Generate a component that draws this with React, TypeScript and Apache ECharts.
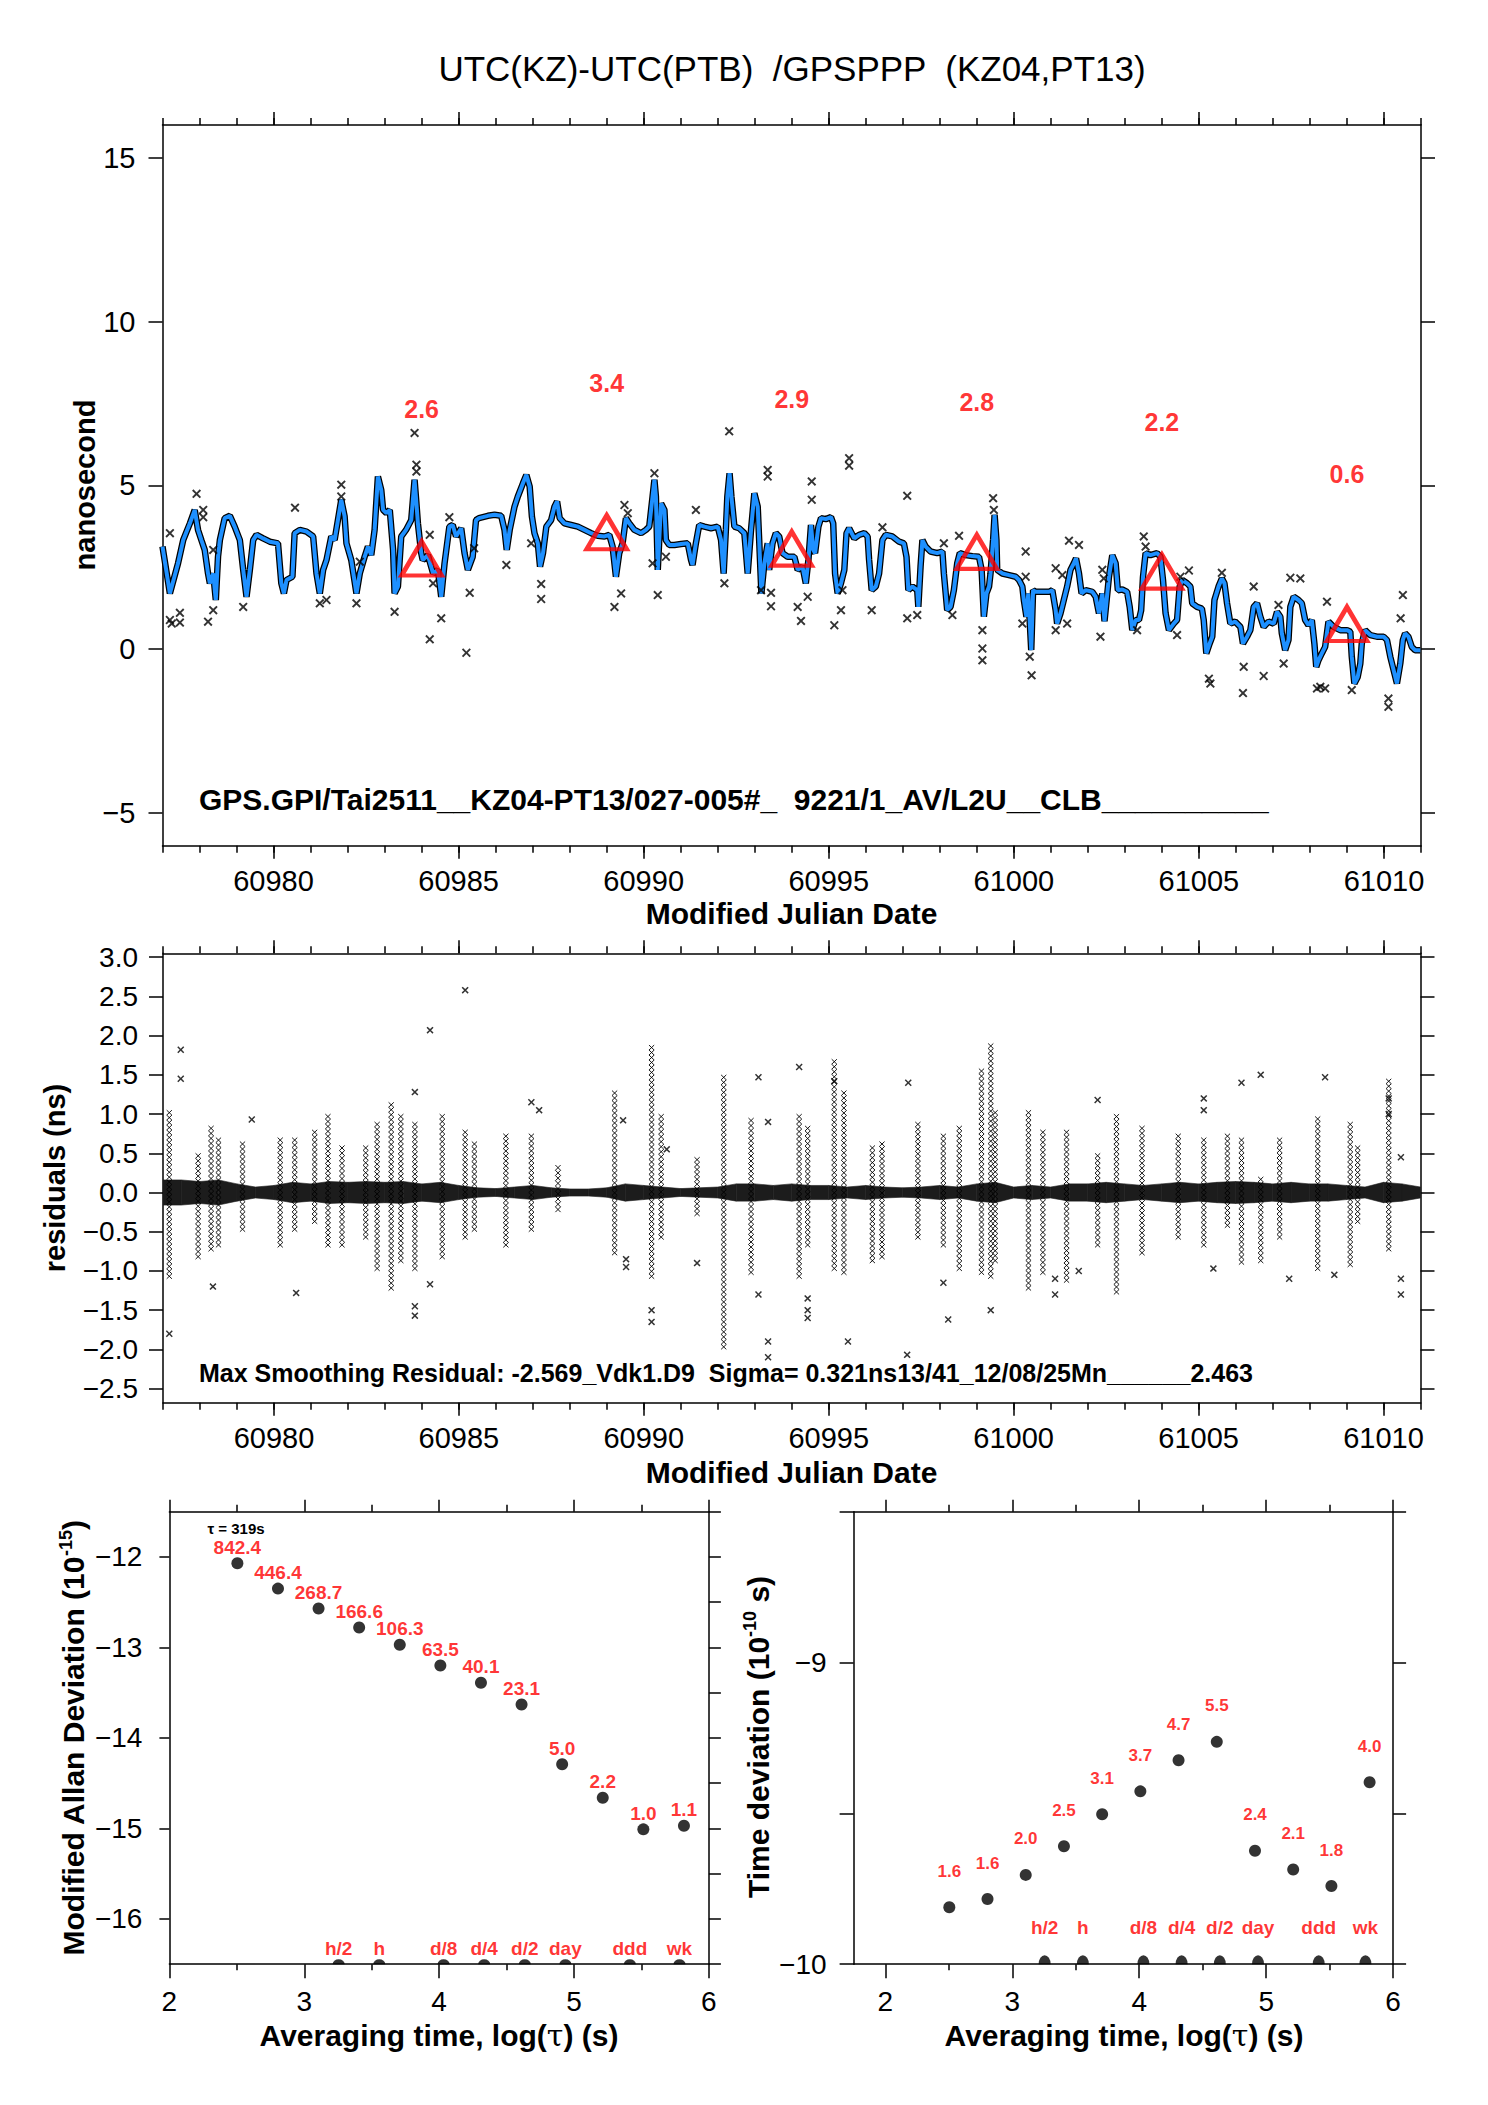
import React, { useEffect, useRef } from 'react';
import * as echarts from 'echarts';

const FONT = '"Liberation Sans", Arial, Helvetica, sans-serif';

// ---------- texts ----------
const chartTitle = 'UTC(KZ)-UTC(PTB)  /GPSPPP  (KZ04,PT13)';
const topInfo = 'GPS.GPI/Tai2511__KZ04-PT13/027-005#_  9221/1_AV/L2U__CLB__________';
const residInfo = 'Max Smoothing Residual: -2.569_Vdk1.D9  Sigma= 0.321ns13/41_12/08/25Mn______2.463';
const tauText = 'τ = 319s';

// ---------- tick labels ----------
const mjdTicks = [60980, 60985, 60990, 60995, 61000, 61005, 61010];
const nsTicks = [-5, 0, 5, 10, 15];
const residTicks = [-2.5, -2.0, -1.5, -1.0, -0.5, 0.0, 0.5, 1.0, 1.5, 2.0, 2.5, 3.0];
const logTauTicks = [2, 3, 4, 5, 6];
const logTauHalfTicks = [2.5, 3.5, 4.5, 5.5];
const mdevTicks = [-16, -15, -14, -13, -12];
const mdevHalfTicks = [-16.5, -16, -15.5, -15, -14.5, -14, -13.5, -13, -12.5, -12, -11.5];
const tdevTicks = [-10, -9];
const tdevHalfTicks = [-10, -9.5, -9, -8.5];

// ---------- top panel: smoothed curve [MJD, ns] ----------
const smoothCurve: [number, number][] = [
  [60977.00,3.13],[60977.20,1.70],[60977.42,2.62],[60977.56,3.33],[60977.74,3.84],[60977.87,4.25],[60977.96,3.64],[60978.05,3.33],[60978.14,3.03],[60978.23,2.31],[60978.28,2.01],[60978.37,2.31],[60978.44,1.50],[60978.50,2.82],[60978.55,3.33],[60978.68,4.00],[60978.82,4.07],[60978.95,3.74],[60979.09,3.33],[60979.18,2.42],[60979.27,1.60],[60979.36,2.42],[60979.45,3.33],[60979.54,3.49],[60979.72,3.38],[60979.90,3.28],[60980.12,3.23],[60980.21,2.01],[60980.28,1.70],[60980.35,2.11],[60980.51,2.21],[60980.57,3.54],[60980.71,3.64],[60980.89,3.59],[60981.07,3.44],[60981.16,2.31],[60981.25,1.70],[60981.34,2.42],[60981.43,2.72],[60981.56,3.44],[60981.65,3.33],[60981.83,4.56],[60981.92,4.05],[60981.97,3.23],[60982.10,2.72],[60982.24,1.70],[60982.33,2.31],[60982.46,2.82],[60982.55,3.13],[60982.64,2.87],[60982.73,3.64],[60982.82,5.27],[60982.91,4.86],[60982.96,4.25],[60983.05,4.15],[60983.14,4.25],[60983.23,3.03],[60983.27,1.70],[60983.36,1.91],[60983.45,3.44],[60983.58,3.64],[60983.72,3.94],[60983.81,5.17],[60983.86,4.45],[60983.90,3.84],[60983.99,2.93],[60984.03,2.72],[60984.17,2.87],[60984.31,2.31],[60984.44,2.42],[60984.53,1.60],[60984.62,2.62],[60984.75,3.74],[60984.84,3.79],[60984.93,3.44],[60985.07,3.69],[60985.16,2.93],[60985.25,2.42],[60985.38,2.82],[60985.47,3.94],[60985.55,4.00],
  [60985.79,4.07],[60985.97,4.10],[60986.15,4.07],[60986.24,3.64],[60986.30,3.03],[60986.38,3.64],[60986.51,4.35],[60986.60,4.66],[60986.74,5.07],[60986.83,5.32],[60986.92,4.96],[60986.98,4.05],[60987.05,3.54],[60987.14,3.23],[60987.20,2.52],[60987.28,2.93],[60987.37,3.74],[60987.50,3.94],[60987.59,4.35],[60987.66,4.51],[60987.73,4.00],[60987.86,3.84],[60988.04,3.79],[60988.22,3.74],[60988.40,3.64],[60988.58,3.54],[60988.76,3.46],[60988.94,3.44],[60989.07,3.49],[60989.16,3.13],[60989.25,2.21],[60989.34,2.93],[60989.43,3.23],[60989.52,4.00],[60989.61,3.84],[60989.75,3.64],[60989.93,3.54],[60990.06,3.64],[60990.15,3.74],[60990.24,4.66],[60990.29,5.17],[60990.33,4.66],[60990.38,2.42],[60990.47,4.45],[60990.56,4.25],[60990.60,3.33],[60990.69,3.18],[60990.83,3.18],[60991.01,3.21],[60991.19,3.23],[60991.28,2.72],[60991.32,2.57],[60991.41,3.23],[60991.50,3.79],[60991.64,3.74],[60991.82,3.69],[60992.00,3.74],[60992.09,3.33],[60992.16,2.31],[60992.22,3.64],[60992.26,4.66],[60992.32,5.37],[60992.37,4.66],[60992.45,3.74],[60992.58,3.69],[60992.72,3.54],[60992.81,2.31],[60992.90,3.64],[60992.99,4.76],[60993.08,4.35],[60993.12,3.33],[60993.18,1.70],[60993.26,2.62],[60993.35,3.23],[60993.39,2.42],[60993.48,3.23],[60993.57,3.54],[60993.66,3.44],[60993.75,2.93],[60993.89,2.82],
  [60994.07,2.82],[60994.16,2.42],[60994.29,2.52],[60994.38,2.01],[60994.45,2.72],[60994.52,3.79],[60994.58,3.03],[60994.63,2.93],[60994.72,3.74],[60994.79,4.00],[60994.92,3.97],[60995.06,4.03],[60995.12,3.84],[60995.17,2.31],[60995.24,1.70],[60995.33,2.01],[60995.42,2.42],[60995.48,3.54],[60995.55,3.69],[60995.69,3.38],[60995.82,3.49],[60995.96,3.54],[60996.05,3.44],[60996.09,2.72],[60996.16,1.80],[60996.27,1.91],[60996.36,2.31],[60996.45,3.33],[60996.54,3.49],[60996.72,3.44],[60996.90,3.28],[60997.03,3.23],[60997.10,2.82],[60997.15,1.80],[60997.26,1.91],[60997.39,1.80],[60997.42,1.29],[60997.48,2.52],[60997.53,3.33],[60997.62,3.13],[60997.75,2.98],[60997.93,2.93],[60998.07,2.98],[60998.11,2.31],[60998.20,1.19],[60998.29,1.29],[60998.38,1.80],[60998.47,2.62],[60998.54,2.93],[60998.70,2.87],[60998.88,2.84],[60999.06,2.82],[60999.13,2.42],[60999.19,0.99],[60999.26,1.70],[60999.33,1.91],[60999.37,2.31],[60999.44,3.33],[60999.48,4.10],[60999.53,3.33],[60999.55,2.42],[60999.69,2.31],[60999.87,2.26],[61000.05,2.21],[61000.14,2.11],[61000.23,1.91],[61000.27,1.50],[61000.34,0.99],[61000.39,1.70],[61000.47,-0.03],[61000.52,1.80],[61000.59,1.75],[61000.77,1.75],[61000.95,1.75],[61001.04,1.80],[61001.13,1.19],[61001.17,0.78],[61001.26,1.09],[61001.35,1.50],[61001.44,1.91],[61001.53,2.42],[61001.62,2.62],[61001.68,2.77],[61001.76,2.31],[61001.83,1.70],[61001.94,1.80],[61002.12,1.75],[61002.21,1.60],[61002.30,1.09],[61002.39,1.70],[61002.45,0.85],
  [61002.57,2.21],[61002.66,2.87],[61002.75,2.62],[61002.81,1.80],[61002.93,1.82],[61003.06,1.75],[61003.13,1.29],[61003.20,0.58],[61003.29,0.89],[61003.38,0.89],[61003.44,1.19],[61003.49,2.21],[61003.56,2.93],[61003.69,2.87],[61003.87,2.93],[61003.96,2.82],[61004.03,2.11],[61004.10,1.09],[61004.19,0.58],[61004.32,0.78],[61004.41,0.89],[61004.48,1.91],[61004.55,2.11],[61004.68,2.01],[61004.77,1.91],[61004.82,1.40],[61004.95,1.29],[61005.08,1.24],[61005.13,0.89],[61005.20,-0.13],[61005.29,0.17],[61005.36,0.38],[61005.42,1.50],[61005.53,1.91],[61005.62,2.16],[61005.69,2.01],[61005.76,1.40],[61005.85,0.78],[61005.98,0.84],[61006.12,0.68],[61006.19,0.17],[61006.30,0.38],[61006.39,0.58],[61006.48,1.29],[61006.57,1.40],[61006.66,0.99],[61006.75,0.68],[61006.88,0.84],[61007.02,0.78],[61007.11,1.14],[61007.20,0.99],[61007.24,0.48],[61007.33,-0.03],[61007.42,0.28],[61007.47,1.29],[61007.56,1.60],[61007.69,1.50],[61007.78,1.40],[61007.87,0.89],[61007.96,0.73],[61008.05,0.89],[61008.12,0.17],[61008.17,-0.54],[61008.23,-0.34],[61008.32,-0.13],[61008.41,0.07],[61008.50,0.84],[61008.64,0.68],[61008.82,0.58],[61009.00,0.58],[61009.09,0.53],[61009.13,-0.23],[61009.20,-1.05],[61009.29,-0.85],[61009.36,-0.44],[61009.40,0.17],[61009.49,0.58],[61009.63,0.43],[61009.81,0.38],[61009.99,0.38],[61010.08,0.28],[61010.17,-0.23],[61010.35,-1.05],[61010.44,-0.44],[61010.51,0.28],[61010.57,0.48],[61010.66,0.38],[61010.75,0.07],[61010.84,-0.03],[61010.98,-0.03],
];

// raw points far from the smoothed curve
const rawOutliers: [number, number][] = [
  [60977.20,3.54],[60977.25,0.78],[60977.20,0.89],[60977.47,1.11],[60977.47,0.81],[60977.92,4.74],[60978.10,4.25],[60978.10,4.03],[60978.23,0.84],[60978.37,3.03],[60978.37,1.19],[60979.18,1.29],[60980.58,4.32],[60981.25,1.40],[60981.43,1.50],[60981.83,5.02],[60981.83,4.66],[60982.24,1.40],[60982.33,2.67],[60983.27,1.14],[60983.81,6.60],[60983.86,5.63],[60983.86,5.42],[60984.22,3.49],[60984.22,0.30],[60984.31,2.01],[60984.53,0.94],[60984.75,4.03],[60985.21,-0.11],[60985.30,1.72],[60985.42,3.08],
  [60986.29,2.57],[60986.96,3.23],[60987.23,1.99],[60987.23,1.53],[60989.21,1.29],[60989.39,1.70],[60989.48,4.40],[60989.57,4.15],[60990.24,2.62],[60990.29,5.37],[60990.38,1.65],[60990.60,2.82],[60991.41,4.25],[60992.18,2.01],[60992.31,6.65],[60993.17,1.80],[60993.35,5.47],[60993.35,5.27],[60993.44,1.72],[60993.44,1.31],
  [60994.16,1.29],[60994.25,0.86],[60994.43,1.60],[60994.54,5.12],[60994.54,4.56],[60995.15,0.73],[60995.33,1.19],[60995.37,1.80],[60995.55,5.83],[60995.55,5.60],[60996.16,1.19],[60996.45,3.72],[60997.12,4.68],[60997.12,0.94],[60997.39,1.04],[60998.11,3.23],[60998.34,1.04],[60998.52,3.46],[60999.15,0.58],[60999.15,0.02],[60999.15,-0.34],[60999.44,4.61],[60999.46,4.25],[61000.23,0.78],[61000.32,2.98],[61000.32,2.21],[61000.43,-0.23],[61000.48,-0.80],[61001.13,2.47],[61001.13,0.58],[61001.31,2.26],[61001.44,0.78],[61001.49,3.31],[61001.76,3.18],[61002.34,0.38],[61002.39,2.42],[61002.43,2.16],
  [61003.33,0.58],[61003.51,3.44],[61003.56,3.13],[61004.41,0.43],[61004.50,2.21],[61004.73,2.40],[61005.27,-0.90],[61005.31,-1.05],[61005.62,2.33],[61006.19,-1.34],[61006.21,-0.54],[61006.48,1.91],[61006.75,-0.82],[61007.15,1.35],[61007.29,-0.44],[61007.47,2.18],[61007.74,2.16],[61008.19,-1.20],[61008.28,-1.15],[61008.41,-1.20],[61008.46,1.45],[61009.13,-1.25],[61010.12,-1.51],[61010.12,-1.76],[61010.45,0.94],[61010.51,1.65],
];

// 5-day means (red triangles)
const meanMjd = [60984, 60989, 60994, 60999, 61004, 61009];
const meanNs = [2.6, 3.4, 2.9, 2.8, 2.2, 0.6];

// ---------- residual panel ----------
const residBandMjd = [60977.0,60977.5,60978.0,60978.5,60979.0,60979.5,60980.0,60980.5,60981.0,60981.5,60982.0,60982.5,60983.0,60983.5,60984.0,60984.5,60985.0,60985.5,60986.0,60986.5,60987.0,60987.5,60988.0,60988.5,60989.0,60989.5,60990.0,60990.5,60991.0,60991.5,60992.0,60992.5,60993.0,60993.5,60994.0,60994.5,60995.0,60995.5,60996.0,60996.5,60997.0,60997.5,60998.0,60998.5,60999.0,60999.5,61000.0,61000.5,61001.0,61001.5,61002.0,61002.5,61003.0,61003.5,61004.0,61004.5,61005.0,61005.5,61006.0,61006.5,61007.0,61007.5,61008.0,61008.5,61009.0,61009.5,61010.0,61010.5,61011.0];
const residBandHalf = [
  0.16,0.16,0.14,0.16,0.11,0.07,0.09,0.13,0.11,0.14,
  0.13,0.14,0.13,0.14,0.11,0.13,0.09,0.06,0.05,0.07,
  0.09,0.06,0.045,0.045,0.06,0.11,0.09,0.07,0.05,0.06,
  0.07,0.11,0.11,0.09,0.11,0.09,0.09,0.07,0.09,0.07,
  0.06,0.07,0.09,0.07,0.11,0.13,0.07,0.09,0.07,0.11,
  0.11,0.13,0.11,0.09,0.11,0.13,0.11,0.13,0.14,0.13,
  0.11,0.13,0.11,0.11,0.09,0.07,0.13,0.11,0.07,
];

// [MJD, lowest residual, highest residual] of columns of scattered residuals
const residColumns: [number, number, number][] = [
  [60977.17,-1.10,1.05],[60977.95,-0.85,0.50],[60978.30,-0.75,0.85],[60978.50,-0.70,0.70],[60979.15,-0.50,0.65],[60980.17,-0.70,0.70],[60980.56,-0.50,0.70],[60981.10,-0.40,0.80],[60981.46,-0.70,1.00],[60981.84,-0.70,0.60],[60982.48,-0.60,0.60],[60982.79,-1.00,0.90],[60983.17,-1.25,1.15],[60983.43,-0.90,1.00],[60983.81,-1.00,0.90],[60984.55,-0.85,1.00],[60985.17,-0.60,0.80],[60985.42,-0.50,0.65],[60986.27,-0.70,0.75],[60986.96,-0.50,0.75],[60987.68,-0.25,0.35],[60989.21,-0.80,1.30],[60990.21,-1.10,1.88],[60990.47,-0.60,1.00],[60991.44,-0.30,0.45],[60992.16,-2.00,1.50],[60992.90,-1.05,0.95],[60994.20,-1.10,1.00],[60994.43,-0.70,0.85],[60995.15,-1.00,1.70],[60995.41,-1.05,1.30],[60996.18,-0.90,0.60],[60996.44,-0.85,0.65],[60997.41,-0.60,0.90],[60998.10,-0.70,0.75],[60998.53,-1.00,0.85],[60999.13,-1.05,1.58],[60999.38,-1.10,1.90],[60999.50,-0.90,1.05],[61000.40,-1.25,1.05],[61000.79,-1.05,0.80],[61001.43,-1.15,0.80],[61002.27,-0.70,0.50],[61002.78,-1.30,1.00],[61003.47,-0.80,0.85],[61004.45,-0.60,0.75],[61005.14,-0.70,0.70],[61005.78,-0.45,0.75],[61006.16,-0.92,0.70],[61006.68,-0.90,0.20],[61007.19,-0.60,0.70],[61008.22,-1.00,0.97],[61009.10,-0.95,0.90],[61009.30,-0.40,0.60],[61010.14,-0.75,1.45],
];

// isolated residual points
const residPoints: [number, number][] = [
  [60977.17,-1.80],[60977.48,1.82],[60977.48,1.45],[60978.35,-1.20],[60979.40,0.93],[60980.60,-1.28],[60983.81,1.28],[60983.81,-1.45],[60983.81,-1.57],[60984.22,2.07],[60984.22,-1.17],[60985.17,2.58],[60986.96,1.15],[60987.17,1.05],[60989.52,-0.85],[60989.52,-0.95],[60989.44,0.92],[60990.21,-1.50],[60990.21,-1.65],[60990.62,0.55],[60991.44,-0.90],[60993.10,1.47],[60993.10,-1.30],[60993.36,-1.90],[60993.36,-2.10],[60993.36,0.90],[60994.20,1.60],[60994.43,-1.35],[60994.43,-1.50],[60994.43,-1.60],[60995.15,1.42],[60995.52,-1.90],[60997.12,-2.07],[60997.15,1.40],[60998.10,-1.15],[60998.23,-1.62],[60999.38,-1.50],[61001.12,-1.10],[61001.12,-1.30],[61001.76,-1.00],[61002.27,1.18],[61005.14,1.20],[61005.14,1.05],[61005.40,-0.97],[61006.16,1.40],[61006.68,1.50],[61007.45,-1.10],[61008.42,1.47],[61008.67,-1.05],[61010.14,1.20],[61010.14,1.00],[61010.47,-1.10],[61010.47,-1.30],[61010.47,0.45],
];

// ---------- stability panels ----------
const logTau = [2.504, 2.805, 3.106, 3.407, 3.708, 4.009, 4.310, 4.611, 4.912, 5.213, 5.514, 5.815];
const logModAdev = [-12.07, -12.35, -12.57, -12.78, -12.97, -13.20, -13.39, -13.63, -14.29, -14.66, -15.01, -14.97];
const modAdevLabels = ['842.4', '446.4', '268.7', '166.6', '106.3', '63.5', '40.1', '23.1', '5.0', '2.2', '1.0', '1.1'];
const logTdev = [-9.811, -9.784, -9.704, -9.609, -9.503, -9.427, -9.324, -9.263, -9.624, -9.686, -9.741, -9.397];
const tdevLabels = ['1.6', '1.6', '2.0', '2.5', '3.1', '3.7', '4.7', '5.5', '2.4', '2.1', '1.8', '4.0'];
const markerNames = ['h/2', 'h', 'd/8', 'd/4', 'd/2', 'day', 'ddd', 'wk'];
const markerLogTau = [3.255, 3.556, 4.033, 4.334, 4.635, 4.936, 5.414, 5.782];

// ---------- helpers ----------
const CROSS = 'path://M0,1.5L1.5,0L5,3.5L8.5,0L10,1.5L6.5,5L10,8.5L8.5,10L5,6.5L1.5,10L0,8.5L3.5,5Z';
const HALF_DOT = 'path://M0,10A10,10 0 0 1 20,10Z';
const minus = (s: string) => s.replace('-', '\u2212');

type AxisOpt = {
  grid: number; pos: string; min: number; max: number; ticks: number[]; len: number;
  line?: boolean; labels?: number[]; fmt?: (v: number) => string; margin?: number; fontSize?: number;
};
const mkAxis = (o: AxisOpt) => ({
  type: 'value', gridIndex: o.grid, position: o.pos, min: o.min, max: o.max,
  axisLine: { show: o.line !== false, onZero: false, lineStyle: { color: '#000', width: 1.5 } },
  axisTick: { show: true, inside: false, length: o.len, customValues: o.ticks, lineStyle: { color: '#000', width: 1.5 } },
  axisLabel: o.labels
    ? { show: true, customValues: o.labels, formatter: o.fmt, margin: o.margin, color: '#000', fontSize: o.fontSize, fontFamily: FONT }
    : { show: false },
  splitLine: { show: false }, splitArea: { show: false }, minorTick: { show: false },
});

const txt = (x: number, y: number, text: string, size: number, weight: string, opts: any = {}) => ({
  type: 'text', x, y, rotation: opts.rotation || 0, z: 50,
  style: {
    text, fontSize: size, fontWeight: weight, fontFamily: FONT, fill: opts.fill || '#000',
    textAlign: opts.align || 'center', align: opts.align || 'center',
    textVerticalAlign: 'middle', verticalAlign: 'middle', rich: opts.rich,
  },
});

function buildOption() {
  const mjdMinor: number[] = [];
  for (let m = 60977; m <= 61011; m++) mjdMinor.push(m);
  const mjdFmt = (v: number) => String(v);
  const nsFmt = (v: number) => minus(String(v));
  const resFmt = (v: number) => minus(v.toFixed(1));
  const intFmt = (v: number) => minus(String(v));

  const grids = [
    { left: 162.5, top: 125, width: 1258.5, height: 720.7 },
    { left: 163, top: 953.3, width: 1257.5, height: 449.4 },
    { left: 169.4, top: 1511.7, width: 539.5, height: 452.5 },
    { left: 853.6, top: 1511.7, width: 539.5, height: 452.5 },
  ].map((g) => ({ ...g, containLabel: false, outerBoundsMode: 'none', show: false }));

  const xAxis: any[] = [];
  const yAxis: any[] = [];
  [0, 1].forEach((g) => {
    xAxis.push(mkAxis({ grid: g, pos: 'bottom', min: 60977, max: 61011, ticks: mjdTicks, len: 13, labels: mjdTicks, fmt: mjdFmt, margin: 21, fontSize: 29 }));
    xAxis.push(mkAxis({ grid: g, pos: 'bottom', min: 60977, max: 61011, ticks: mjdMinor, len: 7, line: false }));
    xAxis.push(mkAxis({ grid: g, pos: 'top', min: 60977, max: 61011, ticks: mjdTicks, len: 13 }));
    xAxis.push(mkAxis({ grid: g, pos: 'top', min: 60977, max: 61011, ticks: mjdMinor, len: 7, line: false }));
  });
  [2, 3].forEach((g) => {
    const mn = g === 2 ? 2 : 1.75;
    xAxis.push(mkAxis({ grid: g, pos: 'bottom', min: mn, max: 6, ticks: logTauTicks, len: 14, labels: logTauTicks, fmt: intFmt, margin: 23, fontSize: 28 }));
    xAxis.push(mkAxis({ grid: g, pos: 'bottom', min: mn, max: 6, ticks: logTauHalfTicks, len: 6, line: false }));
    xAxis.push(mkAxis({ grid: g, pos: 'top', min: mn, max: 6, ticks: logTauTicks, len: 12 }));
    xAxis.push(mkAxis({ grid: g, pos: 'top', min: mn, max: 6, ticks: logTauHalfTicks, len: 7, line: false }));
  });
  yAxis.push(mkAxis({ grid: 0, pos: 'left', min: -6, max: 16, ticks: nsTicks, len: 14, labels: nsTicks, fmt: nsFmt, margin: 27, fontSize: 29 }));
  yAxis.push(mkAxis({ grid: 0, pos: 'right', min: -6, max: 16, ticks: nsTicks, len: 14 }));
  yAxis.push(mkAxis({ grid: 1, pos: 'left', min: -2.68, max: 3.05, ticks: residTicks, len: 14, labels: residTicks, fmt: resFmt, margin: 25, fontSize: 28 }));
  yAxis.push(mkAxis({ grid: 1, pos: 'right', min: -2.68, max: 3.05, ticks: residTicks, len: 14 }));
  yAxis.push(mkAxis({ grid: 2, pos: 'left', min: -16.5, max: -11.5, ticks: mdevTicks, len: 10, labels: mdevTicks, fmt: intFmt, margin: 27, fontSize: 28 }));
  yAxis.push(mkAxis({ grid: 2, pos: 'right', min: -16.5, max: -11.5, ticks: mdevHalfTicks, len: 12 }));
  yAxis.push(mkAxis({ grid: 3, pos: 'left', min: -10, max: -8.5, ticks: tdevHalfTicks, len: 14, labels: tdevTicks, fmt: intFmt, margin: 27, fontSize: 28 }));
  yAxis.push(mkAxis({ grid: 3, pos: 'right', min: -10, max: -8.5, ticks: tdevHalfTicks, len: 13 }));

  const series: any[] = [
    // ---- top panel ----
    { type: 'line', xAxisIndex: 0, yAxisIndex: 0, data: smoothCurve, showSymbol: false, symbol: 'none',
      lineStyle: { color: '#000', width: 6.5 }, z: 2, silent: true },
    { type: 'line', xAxisIndex: 0, yAxisIndex: 0, data: smoothCurve, showSymbol: false, symbol: 'none',
      lineStyle: { color: '#1e90ff', width: 4 }, z: 3, silent: true },
    { type: 'scatter', xAxisIndex: 0, yAxisIndex: 0, data: rawOutliers, symbol: CROSS, symbolSize: 9,
      itemStyle: { color: '#000' }, z: 4, silent: true },
    { type: 'scatter', xAxisIndex: 0, yAxisIndex: 0, data: meanMjd.map((m, i) => [m, meanNs[i]]),
      symbol: 'triangle', symbolSize: [40, 34], symbolOffset: [0, -5.5],
      itemStyle: { color: 'rgba(0,0,0,0)', borderColor: '#ff0000', borderWidth: 4.5 }, z: 6, silent: true },
    { type: 'scatter', xAxisIndex: 0, yAxisIndex: 0, data: meanMjd.map((m, i) => [m, meanNs[i]]),
      symbolSize: 1, itemStyle: { color: 'rgba(0,0,0,0)' }, z: 7, silent: true,
      label: { show: true, position: 'inside', offset: [0, -155], formatter: (p: any) => meanNs[p.dataIndex].toFixed(1),
        color: '#ff0000', fontSize: 25, fontWeight: 'bold', fontFamily: FONT } },
    // ---- residual panel ----
    { type: 'custom', xAxisIndex: 4, yAxisIndex: 2, data: residBandMjd.map((m, i) => [m, residBandHalf[i]]),
      encode: { x: 0, y: 1 }, z: 2, silent: true, clip: true,
      renderItem: (params: any, api: any) => {
        const i = params.dataIndex;
        if (i >= residBandMjd.length - 1) return null;
        const a0 = api.coord([residBandMjd[i], residBandHalf[i]]);
        const a1 = api.coord([residBandMjd[i + 1], residBandHalf[i + 1]]);
        const b1 = api.coord([residBandMjd[i + 1], -residBandHalf[i + 1]]);
        const b0 = api.coord([residBandMjd[i], -residBandHalf[i]]);
        return { type: 'polygon', shape: { points: [a0, a1, b1, b0] }, style: { fill: '#1c1c1c', stroke: '#1c1c1c', lineWidth: 0.6 } };
      } },
    { type: 'custom', xAxisIndex: 4, yAxisIndex: 2, data: residColumns, encode: { x: 0, y: [1, 2] },
      z: 3, silent: true, clip: true,
      renderItem: (params: any, api: any) => {
        const x = api.value(0), lo = api.value(1), hi = api.value(2);
        const p0 = api.coord([x, hi]);
        const p1 = api.coord([x, lo]);
        const step = 5, hw = 2.6;
        const n = Math.max(1, Math.round((p1[1] - p0[1]) / step));
        const a: number[][] = [], b: number[][] = [];
        for (let k = 0; k <= n; k++) {
          const y = p0[1] + ((p1[1] - p0[1]) * k) / n;
          const s = k % 2 === 0 ? -hw : hw;
          a.push([p0[0] + s, y]);
          b.push([p0[0] - s, y]);
        }
        return { type: 'group', children: [
          { type: 'polyline', shape: { points: a }, style: { stroke: '#000', lineWidth: 0.9, fill: null } },
          { type: 'polyline', shape: { points: b }, style: { stroke: '#000', lineWidth: 0.9, fill: null } },
        ] };
      } },
    { type: 'scatter', xAxisIndex: 4, yAxisIndex: 2, data: residPoints, symbol: CROSS, symbolSize: 7,
      itemStyle: { color: '#000' }, z: 4, silent: true },
    // ---- Mod ADEV ----
    { type: 'scatter', xAxisIndex: 8, yAxisIndex: 4, data: logTau.map((t, i) => [t, logModAdev[i]]),
      symbol: 'circle', symbolSize: 12, itemStyle: { color: '#000' }, z: 5, silent: true,
      label: { show: true, position: 'inside', offset: [0, -16], formatter: (p: any) => modAdevLabels[p.dataIndex],
        color: '#ff0000', fontSize: 19, fontWeight: 'bold', fontFamily: FONT } },
    { type: 'scatter', xAxisIndex: 8, yAxisIndex: 4, data: markerLogTau.map((t) => [t, -16.5]),
      symbol: HALF_DOT, symbolSize: [12, 5], symbolOffset: [0, -2.5], itemStyle: { color: '#000' }, z: 5, silent: true, clip: false,
      label: { show: true, position: 'inside', offset: [0, -13], formatter: (p: any) => markerNames[p.dataIndex],
        color: '#ff0000', fontSize: 19, fontWeight: 'bold', fontFamily: FONT } },
    // ---- TDEV ----
    { type: 'scatter', xAxisIndex: 12, yAxisIndex: 6, data: logTau.map((t, i) => [t, logTdev[i]]),
      symbol: 'circle', symbolSize: 12, itemStyle: { color: '#000' }, z: 5, silent: true,
      label: { show: true, position: 'inside', offset: [0, -36], formatter: (p: any) => tdevLabels[p.dataIndex],
        color: '#ff0000', fontSize: 17, fontWeight: 'bold', fontFamily: FONT } },
    { type: 'scatter', xAxisIndex: 12, yAxisIndex: 6, data: markerLogTau.map((t) => [t, -10]),
      symbol: HALF_DOT, symbolSize: [12, 9], symbolOffset: [0, -4.5], itemStyle: { color: '#000' }, z: 5, silent: true, clip: false,
      label: { show: true, position: 'inside', offset: [0, -32], formatter: (p: any) => markerNames[p.dataIndex],
        color: '#ff0000', fontSize: 19, fontWeight: 'bold', fontFamily: FONT } },
  ];

  const sup = { fontSize: 18, fontWeight: 'bold', fontFamily: FONT, verticalAlign: 'top', lineHeight: 34, fill: '#000', color: '#000' };
  const base = { fontSize: 30, fontWeight: 'bold', fontFamily: FONT, lineHeight: 34, fill: '#000', color: '#000' };
  const tau = { fontSize: 30, fontWeight: 'normal', fontFamily: '"DejaVu Serif", "Liberation Serif", serif', lineHeight: 34, fill: '#000', color: '#000' };
  const richAx = { a: base, s: sup, t: tau };

  const graphic: any[] = [
    txt(792, 68, chartTitle, 35, 'normal'),
    txt(199, 799, topInfo, 30, 'bold', { align: 'left' }),
    txt(199, 1373, residInfo, 25, 'bold', { align: 'left' }),
    txt(85, 485, 'nanosecond', 29, 'bold', { rotation: Math.PI / 2 }),
    txt(791.5, 913, 'Modified Julian Date', 30, 'bold'),
    txt(55, 1178, 'residuals (ns)', 29, 'bold', { rotation: Math.PI / 2 }),
    txt(791.5, 1472, 'Modified Julian Date', 30, 'bold'),
    txt(236, 1528, tauText, 15, 'bold'),
    txt(73.5, 1738, '{a|Modified Allan Deviation (10}{s|-15}{a|)}', 30, 'bold', { rotation: Math.PI / 2, rich: richAx }),
    txt(439, 2035, '{a|Averaging time, log(}{t|τ}{a|) (s)}', 30, 'bold', { rich: richAx }),
    txt(758, 1737, '{a|Time deviation (10}{s|-10}{a| s)}', 30, 'bold', { rotation: Math.PI / 2, rich: richAx }),
    txt(1124, 2035, '{a|Averaging time, log(}{t|τ}{a|) (s)}', 30, 'bold', { rich: richAx }),
  ];

  return { animation: false, backgroundColor: '#fff', grid: grids, xAxis, yAxis, series, graphic };
}

export default function App() {
  const ref = useRef<HTMLDivElement>(null);
  useEffect(() => {
    document.body.style.margin = '0';
    const chart = echarts.init(ref.current!, null, { renderer: 'svg' });
    chart.setOption(buildOption() as any);
    return () => chart.dispose();
  }, []);
  return <div ref={ref} style={{ width: 1488, height: 2105 }} />;
}
